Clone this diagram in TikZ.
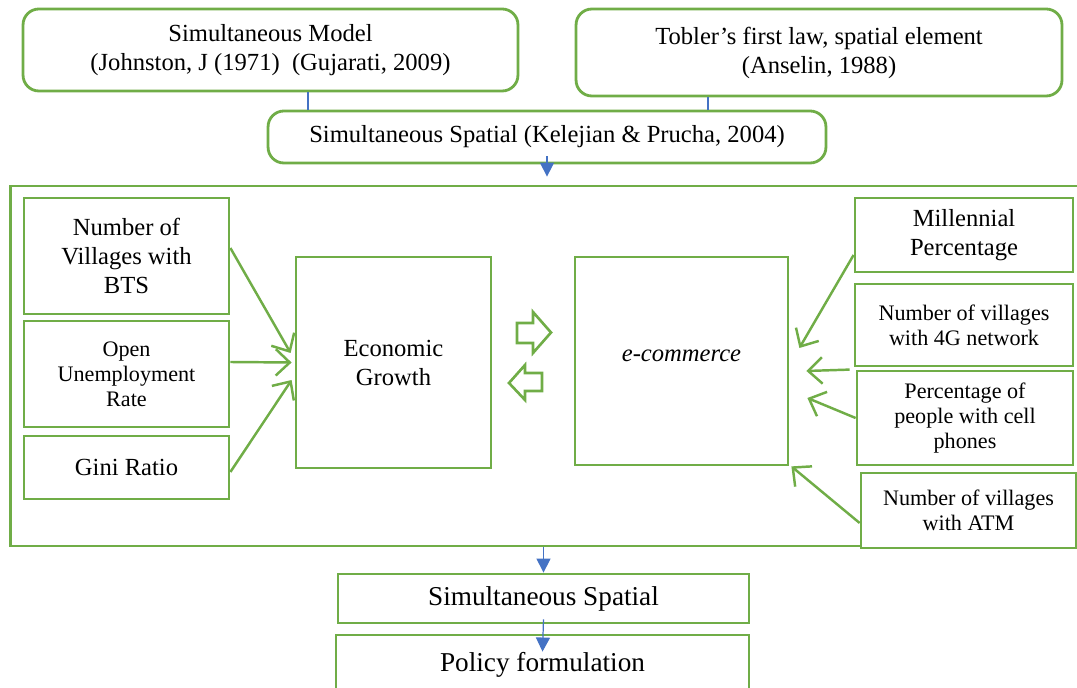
\documentclass[tikz,border=0pt]{standalone}
\usepackage{fontspec}
\setmainfont{Liberation Serif}
\usetikzlibrary{arrows.meta}
\definecolor{boxgreen}{HTML}{70AD47}
\definecolor{linkblue}{HTML}{4472C4}

\begin{document}
\begin{tikzpicture}[x=0.02cm, y=-0.02cm,
  rbox/.style={draw=boxgreen, line width=1.6pt, rounded corners=9pt, align=center, inner sep=0pt, font=\fontsize{14}{16.5}\selectfont},
  sbox/.style={draw=boxgreen, line width=1.6pt, align=center, inner sep=0pt, fill=white, font=\fontsize{14}{16.5}\selectfont},
  small/.style={font=\fontsize{12.6}{14.3}\selectfont},
  link/.style={linkblue, line width=0.7pt},
  flow/.style={linkblue, line width=0.7pt, -{Triangle[length=8pt,width=8pt]}},
  infl/.style={boxgreen, line width=1.4pt, -{Straight Barb[length=8pt,width=15pt]}},
  blockarrow/.style={draw=boxgreen, line width=1.5pt, fill=white}]
\useasboundingbox (0,0) rectangle (1077,688);
\clip (0,0) rectangle (1077,688);

% outer frame
\node[draw=boxgreen, line width=1.6pt, minimum width=21.6cm, minimum height=7.2cm] (frame) at (550,366) {};

% top
\node[rbox, minimum width=9.9cm, minimum height=1.64cm] (model) at (270.5,50) {Simultaneous Model\\ (Johnston, J (1971)\ \ (Gujarati, 2009)};
\node[rbox, minimum width=9.72cm, minimum height=1.74cm] (tobler) at (819,52.5) {Tobler’s first law, spatial element\\ (Anselin, 1988)};
\node[rbox, minimum width=11.16cm, minimum height=1.04cm] (simsp) at (547,137) {Simultaneous Spatial (Kelejian \& Prucha, 2004)};

% left variables
\node[sbox, minimum width=4.1cm, minimum height=2.32cm] (bts) at (126.5,256) {Number of\\ Villages with\\ BTS};
\node[sbox, small, minimum width=4.1cm, minimum height=2.12cm] (unemp) at (126.5,374) {Open\\ Unemployment\\ Rate};
\node[sbox, minimum width=4.1cm, minimum height=1.26cm] (gini) at (126.5,467.5) {Gini Ratio};

% centre
\node[sbox, minimum width=3.9cm, minimum height=4.22cm] (growth) at (393.5,362.5) {Economic\\ Growth};
\node[sbox, minimum width=4.26cm, minimum height=4.16cm] (ecom) at (681.5,361) {\raisebox{0.2cm}{\itshape e-commerce}};

% right variables
\node[sbox, minimum width=4.36cm, minimum height=1.48cm] (mill) at (964,235) {Millennial\\ Percentage};
\node[sbox, small, minimum width=4.36cm, minimum height=1.64cm] (fourg) at (964,325) {Number of villages\\ with 4G network};
\node[sbox, small, minimum width=4.32cm, minimum height=1.88cm] (cell) at (965,418) {Percentage of\\ people with cell\\ phones};
\node[sbox, small, minimum width=4.3cm, minimum height=1.5cm] (atm) at (968.5,510.5) {Number of villages\\ with ATM};

% bottom
\node[sbox, font=\fontsize{15.5}{18}\selectfont, minimum width=8.22cm, minimum height=0.98cm] (simsp2) at (543.5,598.5) {Simultaneous Spatial};
\node[sbox, font=\fontsize{15.5}{18}\selectfont, minimum width=8.26cm, minimum height=1.2cm] (policy) at (542.5,665) {Policy formulation};

% blue links
\draw[link] ([xshift=0.75cm]model.south) -- ([xshift=0.75cm]model.south |- simsp.north);
\draw[link] ([xshift=-2.22cm]tobler.south) -- ([xshift=-2.22cm]tobler.south |- simsp.north);
\draw[flow] ([yshift=0.16cm]simsp.south) -- ([yshift=0.16cm]simsp.south |- frame.north);
\draw[flow] (simsp2.north |- frame.south) -- (simsp2.north);
\draw[flow] ([yshift=0.1cm]simsp2.south) -- ([yshift=-0.36cm]policy.north);

% green influences
\draw[infl] ([yshift=0.16cm]bts.east) -- ([xshift=-0.08cm,yshift=0.19cm]growth.west);
\draw[infl] ([yshift=0.24cm]unemp.east) -- ([xshift=-0.06cm]growth.west);
\draw[infl] ([yshift=-0.09cm]gini.east) -- ([xshift=-0.06cm,yshift=-0.35cm]growth.west);
\draw[infl] ([yshift=-0.4cm]mill.west) -- ([xshift=0.2cm,yshift=0.26cm]ecom.east);
\draw[infl] ([xshift=-0.12cm]cell.north west) -- ([xshift=0.34cm,yshift=-0.2cm]ecom.east);
\draw[infl] (cell.west) -- ([xshift=0.36cm,yshift=-0.74cm]ecom.east);
\draw[infl] ([yshift=-0.25cm]atm.west) -- ([xshift=0.04cm]ecom.south east);

% two-way block arrows
\draw[blockarrow] (517,323) -- (533,323) -- (533,312) -- (551,332.5) -- (533,353) -- (533,343) -- (517,343) -- cycle;
\draw[blockarrow] (542,373) -- (525,373) -- (525,365) -- (509,383) -- (525,400) -- (525,391) -- (542,391) -- cycle;
\end{tikzpicture}
\end{document}
